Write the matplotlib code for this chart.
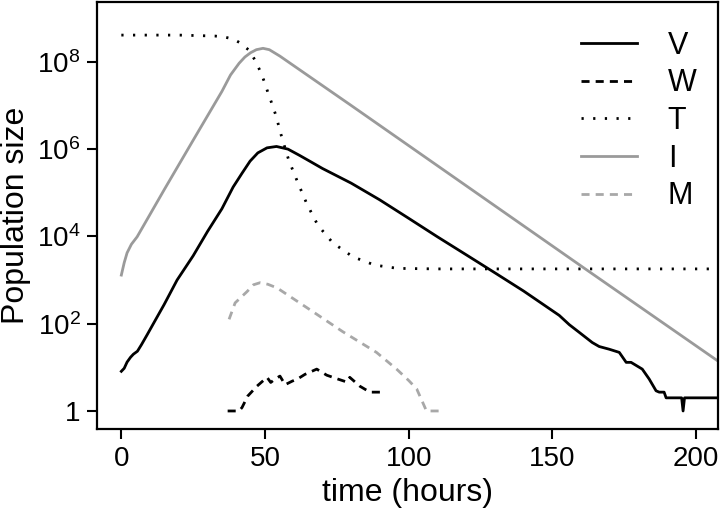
import numpy as np
import matplotlib
matplotlib.use("Agg")
import matplotlib.pyplot as plt
from matplotlib.ticker import NullLocator

plt.rcParams['font.family'] = ['Liberation Sans', 'DejaVu Sans']
plt.rcParams['mathtext.fontset'] = 'custom'
plt.rcParams['mathtext.rm'] = 'Liberation Sans'
plt.rcParams['mathtext.default'] = 'regular'

# virus V
v_time = [0, 1, 2, 3.2, 4.2, 5.6, 7, 9, 12, 14.9, 19.4, 25, 30, 35, 38.9, 42, 44.8,
          47.5, 50.7, 54, 58, 62, 66, 70, 80, 89.9, 100, 110, 120, 129.9, 140, 152.4,
          155.9, 159.4, 163.9, 166.3, 169.8, 173.3, 175.7, 177.4, 181.3, 183.7,
          186.1, 187.2, 188.9, 189.6, 195, 195.5, 196, 207.6]
v_pop = [8.1, 9.5, 13.2, 17, 20, 23.4, 33, 56, 126, 275, 1000, 3.6e3, 1.3e4, 4.3e4,
         1.35e5, 2.8e5, 5.3e5, 8.2e5, 1.07e6, 1.15e6, 1.0e6, 7.2e5, 5.1e5, 3.6e5,
         1.66e5, 6.9e4, 2.6e4, 9.8e3, 3.8e3, 1.48e3, 560, 155, 95, 63, 37, 30, 26,
         22, 13, 13, 9.1, 5.4, 2.9, 2.7, 2.7, 2, 2, 1, 2, 2]

# W (black dashed)
w_time = [37, 41, 42, 44, 47.2, 50.7, 52, 53.5, 55.2, 57, 59.4, 61.5, 63.9, 68,
          71.5, 75.3, 78.5, 79.5, 83, 86.5, 91.7]
w_pop = [1, 1, 1.2, 2.2, 3.7, 5.9, 4.5, 5.4, 6.3, 4.0, 4.8, 5.5, 6.9, 9.1, 6.6,
         5.4, 4.6, 5.9, 3.7, 2.7, 2.7]

# target cells T (dotted)
t_time = [0, 20, 32.6, 36, 39, 41, 44.4, 46.5, 48.3, 49.7, 51, 52.4, 53.8, 55.9,
          58.3, 61.5, 64.6, 68.4, 73.6, 80.6, 88.2, 96.2, 110, 207.6]
t_pop = [4.1e8, 4.1e8, 3.9e8, 3.7e8, 3.3e8, 2.8e8, 1.86e8, 1.1e8, 6.2e7, 3.6e7,
         2.0e7, 1.1e7, 5.9e6, 1.8e6, 5.5e5, 1.66e5, 5.5e4, 1.8e4, 7.1e3, 3.4e3,
         2.2e3, 1.85e3, 1.8e3, 1.8e3]

# infected cells I (grey solid)
i_time = [0, 1, 2, 3.5, 5.5, 15, 25, 35, 38, 41, 43, 45, 47, 49.3, 51.5, 53.5,
          55.2, 80, 120, 160, 207.6]
i_pop = [1.3e3, 2.5e3, 4.2e3, 6.6e3, 9.8e3, 1.2e5, 1.6e6, 2.1e7, 5.0e7, 9.3e7,
         1.29e8, 1.62e8, 1.9e8, 2.04e8, 1.9e8, 1.58e8, 1.35e8, 1.0e7, 1.45e5,
         2.1e3, 14]

# M (grey dashed)
m_time = [37.5, 39.6, 43.7, 46, 48.3, 51, 54.2, 65.6, 77, 88.8, 95.8, 100, 102.8,
          106.2, 111.5]
m_pop = [126, 300, 540, 780, 870, 800, 660, 210, 66, 22, 9.1, 5, 3.2, 1, 1]

xticks = [0, 50, 100, 150, 200]
yticks = [1, 1e2, 1e4, 1e6, 1e8]
ytick_labels = ['1', '$10^{2}$', '$10^{4}$', '$10^{6}$', '$10^{8}$']

grey = '#9a9a9a'
fig = plt.figure(figsize=(7.2, 5.13), dpi=100)
ax = fig.add_axes([0.135, 0.164, 0.862, 0.832])

ax.plot(v_time, v_pop, color='black', lw=2.0, label='V')
ax.plot(w_time, w_pop, color='black', lw=2.0, ls=(0, (2.9, 2.2)), label='W')
ax.plot(t_time, t_pop, color='black', lw=2.0, ls=(0, (0.8, 3.4)), label='T')
ax.plot(i_time, i_pop, color=grey, lw=2.0, label='I')
ax.plot(m_time, m_pop, color='#a8a8a8', lw=2.0, ls=(0, (2.9, 2.2)), label='M')

ax.set_yscale('log')
ax.set_xlim(-8.4, 207.6)
ax.set_ylim(10 ** -0.41, 10 ** 9.37)
ax.set_xticks(xticks)
ax.set_yticks(yticks)
ax.set_yticklabels(ytick_labels)
ax.yaxis.set_minor_locator(NullLocator())
ax.tick_params(labelsize=20, length=7, width=1.5, pad=5)

for s in ax.spines.values():
    s.set_linewidth(1.6)

ax.set_xlabel('time (hours)', fontsize=23, labelpad=5)
ax.set_ylabel('Population size', fontsize=23, labelpad=4)

ax.legend(loc='upper right', bbox_to_anchor=(1.01, 0.997), frameon=False,
          fontsize=22, handlelength=1.85, handletextpad=1.0, labelspacing=0.25)

fig.savefig('out.png', dpi=100)
